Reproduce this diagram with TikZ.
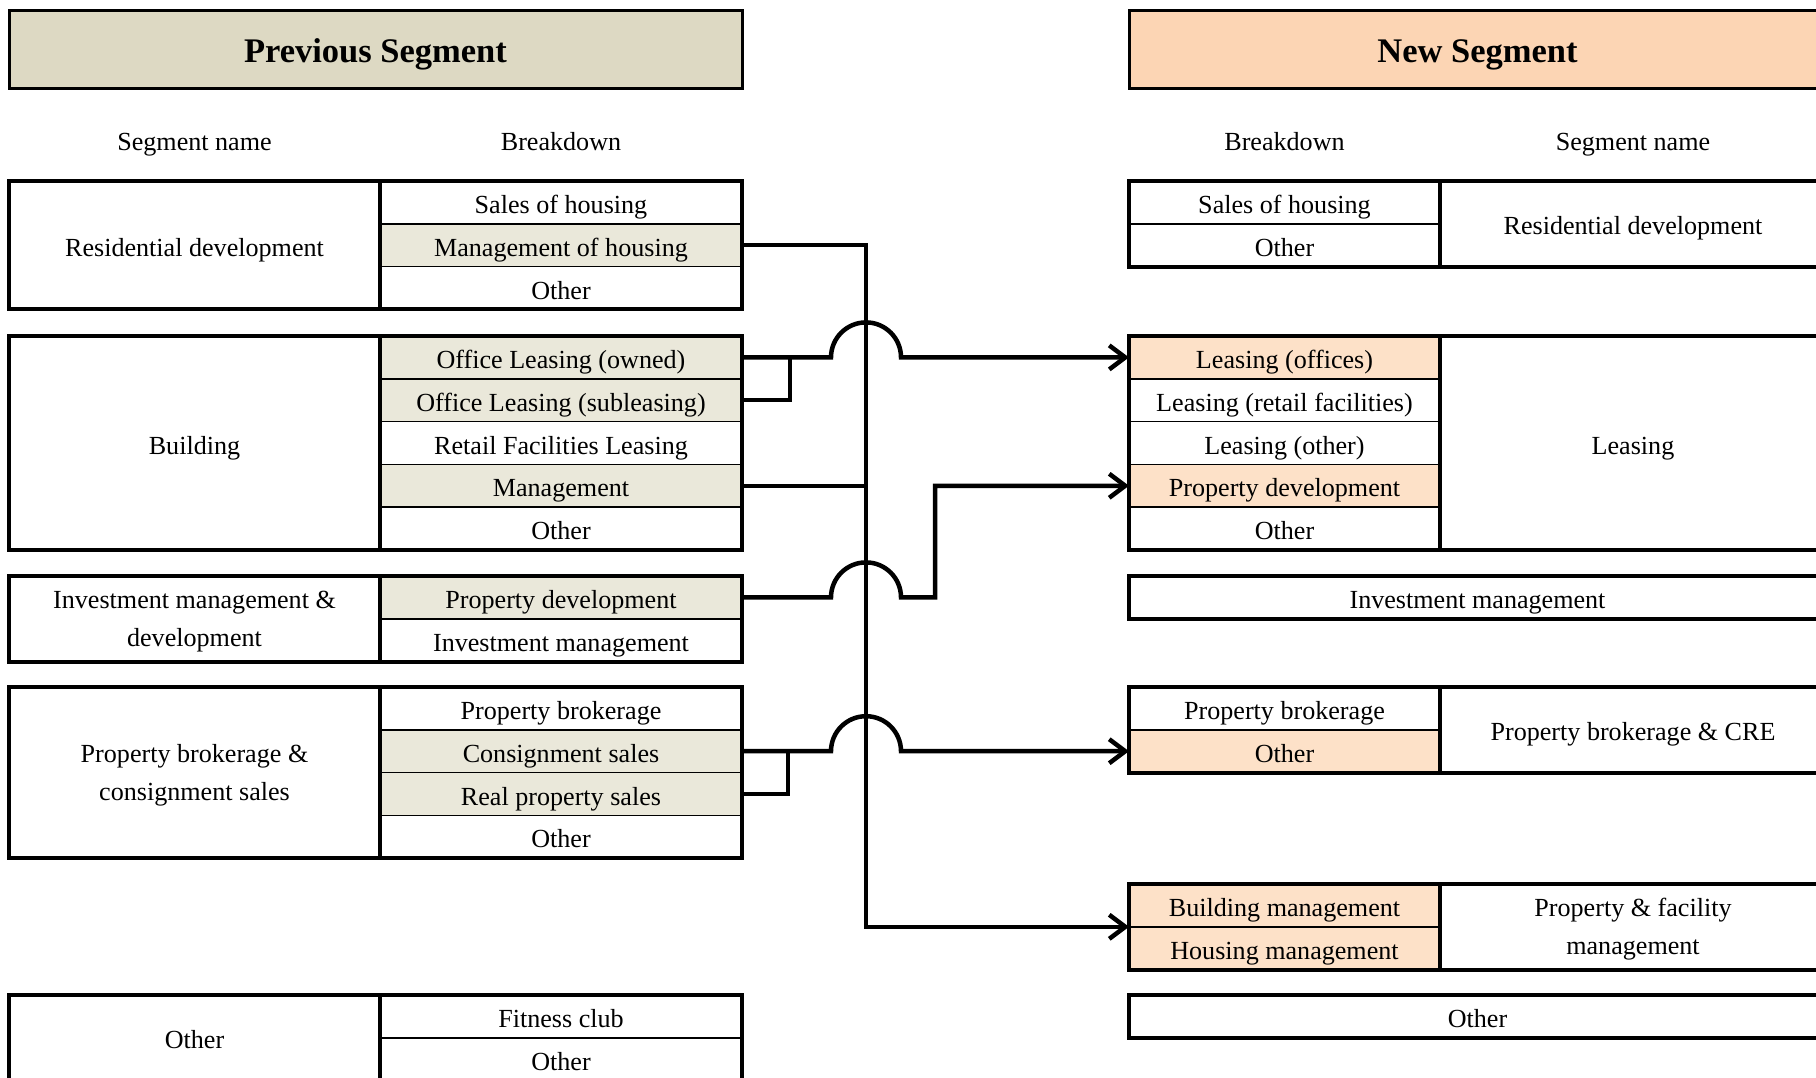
\documentclass[tikz,border=0pt]{standalone}
\usepackage{fontspec}
\setmainfont{Liberation Serif}
\usetikzlibrary{arrows.meta,calc}
\definecolor{hdrL}{RGB}{221,217,195}
\definecolor{rowL}{RGB}{234,232,218}
\definecolor{hdrR}{RGB}{252,213,180}
\definecolor{rowR}{RGB}{253,225,200}
\begin{document}
\begin{tikzpicture}[x=1pt,y=-1pt,
 txt/.style={font=\fontsize{26.1}{38}\selectfont, align=center, text=black, text height=25pt, text depth=3pt},
 colhead/.style={txt, text height=22.6pt, text depth=3pt},
 mline/.style={text height=56pt, text depth=0pt},
 cell/.style={draw, line width=1.6pt, minimum height=42.8pt, inner sep=0pt, outer sep=0pt, fill=white, txt},
 lb/.style={cell, minimum width=362pt},
 rb/.style={cell, minimum width=311pt},
 ln/.style={cell, minimum width=371pt},
 rn/.style={cell, minimum width=386pt},
 rw/.style={cell, minimum width=697pt},
 hlL/.style={fill=rowL}, hlR/.style={fill=rowR},
 frame/.style={draw, line width=4pt},
 divider/.style={line width=3.6pt},
 hdr/.style={draw, line width=3pt, inner sep=0pt, minimum height=78pt, text height=27.1pt, text depth=2pt, font=\fontsize{34.5}{40}\selectfont\bfseries},
 conn/.style={line width=4.5pt},
 arr/.style={-{Straight Barb[length=16pt,width=24pt]}}
]
\fill[white] (0,0) rectangle (1816,1078);
\useasboundingbox (0,0) rectangle (1816,1078);

% headers
\node[hdr, fill=hdrL, minimum width=733pt] (prevh) at (375.5,50) {Previous Segment};
\node[hdr, fill=hdrR, minimum width=697pt] (newh) at (1477.5,50) {New Segment};

\node[colhead] (lsn) at (194.5,141) {Segment name};
\node[colhead] (lbd) at (561,141) {Breakdown};
\node[colhead] (rbd) at (1284.5,141) {Breakdown};
\node[colhead] (rsn) at (1633,141) {Segment name};

% ---------- left: residential
\node[ln, minimum height=128.4pt] (lresn) at (194.5,245.2) {Residential development};
\node[lb] (lres1) at (561,202.4) {Sales of housing};
\node[lb,hlL] (lres2) at (561,245.2) {Management of housing};
\node[lb] (lres3) at (561,288.0) {Other};
\draw[frame] (lresn.north west) rectangle (lres3.south east);
\draw[divider] (lresn.north east) -- (lresn.south east);

% ---------- left: building
\node[ln, minimum height=214pt] (lbldn) at (194.5,443) {Building};
\node[lb,hlL] (lbld1) at (561,357.4) {Office Leasing (owned)};
\node[lb,hlL] (lbld2) at (561,400.2) {Office Leasing (subleasing)};
\node[lb] (lbld3) at (561,443.0) {Retail Facilities Leasing};
\node[lb,hlL] (lbld4) at (561,485.8) {Management};
\node[lb] (lbld5) at (561,528.6) {Other};
\draw[frame] (lbldn.north west) rectangle (lbld5.south east);
\draw[divider] (lbldn.north east) -- (lbldn.south east);

% ---------- left: investment
\node[ln, mline, minimum height=85.6pt] (linvn) at (194.5,618.8) {Investment management \&\\development};
\node[lb,hlL] (linv1) at (561,597.4) {Property development};
\node[lb] (linv2) at (561,640.2) {Investment management};
\draw[frame] (linvn.north west) rectangle (linv2.south east);
\draw[divider] (linvn.north east) -- (linvn.south east);

% ---------- left: brokerage
\node[ln, mline, minimum height=171.2pt] (lbron) at (194.5,772.6) {Property brokerage \&\\consignment sales};
\node[lb] (lbro1) at (561,708.4) {Property brokerage};
\node[lb,hlL] (lbro2) at (561,751.2) {Consignment sales};
\node[lb,hlL] (lbro3) at (561,794.0) {Real property sales};
\node[lb] (lbro4) at (561,836.8) {Other};
\draw[frame] (lbron.north west) rectangle (lbro4.south east);
\draw[divider] (lbron.north east) -- (lbron.south east);

% ---------- left: other
\node[ln, minimum height=85.6pt] (lothn) at (194.5,1037.8) {Other};
\node[lb] (loth1) at (561,1016.4) {Fitness club};
\node[lb] (loth2) at (561,1059.2) {Other};
\draw[frame] (lothn.north west) rectangle (loth2.south east);
\draw[divider] (lothn.north east) -- (lothn.south east);

% ---------- right: residential
\node[rb] (rres1) at (1284.5,202.4) {Sales of housing};
\node[rb] (rres2) at (1284.5,245.2) {Other};
\node[rn, minimum height=85.6pt] (rresn) at (1633,223.8) {Residential development};
\draw[frame] (rres1.north west) rectangle (rresn.south east);
\draw[divider] (rresn.north west) -- (rresn.south west);

% ---------- right: leasing
\node[rb,hlR] (rlea1) at (1284.5,357.4) {Leasing (offices)};
\node[rb] (rlea2) at (1284.5,400.2) {Leasing (retail facilities)};
\node[rb] (rlea3) at (1284.5,443.0) {Leasing (other)};
\node[rb,hlR] (rlea4) at (1284.5,485.8) {Property development};
\node[rb] (rlea5) at (1284.5,528.6) {Other};
\node[rn, minimum height=214pt] (rlean) at (1633,443) {Leasing};
\draw[frame] (rlea1.north west) rectangle (rlean.south east);
\draw[divider] (rlean.north west) -- (rlean.south west);

% ---------- right: investment management
\node[rw] (rinv) at (1477.5,597.4) {Investment management};
\draw[frame] (rinv.north west) rectangle (rinv.south east);

% ---------- right: brokerage & CRE
\node[rb] (rbro1) at (1284.5,708.4) {Property brokerage};
\node[rb,hlR] (rbro2) at (1284.5,751.2) {Other};
\node[rn, minimum height=85.6pt] (rbron) at (1633,729.8) {Property brokerage \& CRE};
\draw[frame] (rbro1.north west) rectangle (rbron.south east);
\draw[divider] (rbron.north west) -- (rbron.south west);

% ---------- right: property & facility management
\node[rb,hlR] (rpf1) at (1284.5,905.4) {Building management};
\node[rb,hlR] (rpf2) at (1284.5,948.2) {Housing management};
\node[rn, mline, minimum height=85.6pt] (rpfn) at (1633,926.8) {Property \& facility\\management};
\draw[frame] (rpf1.north west) rectangle (rpfn.south east);
\draw[divider] (rpfn.north west) -- (rpfn.south west);

% ---------- right: other
\node[rw] (roth) at (1477.5,1016.4) {Other};
\draw[frame] (roth.north west) rectangle (roth.south east);

% ---------- connectors
\coordinate (tx) at (866,0);
\coordinate (jx) at (831,0);
\coordinate (sx) at (790,0);
\coordinate (sy) at (788,0);
\coordinate (kx) at (935,0);

\draw[conn,arr] (lres2.east) -- (lres2.east -| tx) -- (rpf1.south west -| tx) -- (rpf1.south west);
\draw[conn] (lbld4.east) -- (lbld4.east -| tx);

\draw[conn,arr] (lbld1.east) -- (lbld1.east -| jx) arc[start angle=180,end angle=0,radius=35pt] -- (rlea1.west);
\draw[conn] (lbld2.east) -- (lbld2.east -| sx) -- (lbld1.east -| sx);

\draw[conn,arr] (linv1.east) -- (linv1.east -| jx) arc[start angle=180,end angle=0,radius=35pt] -- (linv1.east -| kx) -- (rlea4.west -| kx) -- (rlea4.west);

\draw[conn,arr] (lbro2.east) -- (lbro2.east -| jx) arc[start angle=180,end angle=0,radius=35pt] -- (rbro2.west);
\draw[conn] (lbro3.east) -- (lbro3.east -| sy) -- (lbro2.east -| sy);
\end{tikzpicture}
\end{document}
